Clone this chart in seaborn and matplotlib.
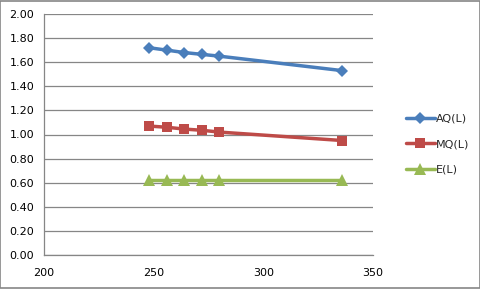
import matplotlib
matplotlib.use("Agg")
import matplotlib.pyplot as plt
import seaborn as sns
import pandas as pd

L = [248, 256, 264, 272, 280, 336]
AQ = [1.72, 1.70, 1.68, 1.665, 1.65, 1.53]
MQ = [1.07, 1.06, 1.045, 1.035, 1.02, 0.95]
E = [0.62, 0.62, 0.62, 0.62, 0.62, 0.62]
series_names = ["AQ(L)", "MQ(L)", "E(L)"]
x_ticks = [200, 250, 300, 350]
y_ticks = [0.0, 0.2, 0.4, 0.6, 0.8, 1.0, 1.2, 1.4, 1.6, 1.8, 2.0]

sns.set_style("white")
plt.rcParams['font.family'] = ['DejaVu Sans']

df = pd.DataFrame({"L": L * 3,
                   "value": AQ + MQ + E,
                   "series": [series_names[0]] * 6 + [series_names[1]] * 6 + [series_names[2]] * 6})

fig = plt.figure(figsize=(4.81, 2.89), dpi=100)
ax = fig.add_axes([44 / 481, 1 - 255 / 289, (373 - 44) / 481, (255 - 14) / 289])

colors = {"AQ(L)": "#4A7EBB", "MQ(L)": "#BE4B48", "E(L)": "#98B954"}
markers = {"AQ(L)": "D", "MQ(L)": "s", "E(L)": "^"}
msize = {"AQ(L)": 6.5, "MQ(L)": 7.5, "E(L)": 8.5}
for name in series_names:
    sub = df[df["series"] == name]
    sns.lineplot(data=sub, x="L", y="value", ax=ax, color=colors[name],
                 marker=markers[name], markersize=msize[name], linewidth=2.5,
                 markeredgewidth=0, label=name)

ax.set_xlim(200, 350)
ax.set_ylim(0, 2.0)
ax.set_xticks(x_ticks)
ax.set_yticks(y_ticks)
ax.set_yticklabels([f"{v:.2f}" for v in y_ticks])
ax.set_xlabel("")
ax.set_ylabel("")
ax.yaxis.grid(True, color="#868686", linewidth=0.9)
ax.xaxis.grid(False)
for s in ["top", "right"]:
    ax.spines[s].set_visible(False)
for s in ["left", "bottom"]:
    ax.spines[s].set_color("#868686")
    ax.spines[s].set_linewidth(0.9)
ax.tick_params(axis="both", which="both", length=4, width=0.9, color="#868686",
               labelsize=8, labelcolor="#000000", direction="out")
ax.tick_params(axis="x", pad=5)
ax.tick_params(axis="y", pad=3)

leg = ax.legend(loc="center left", bbox_to_anchor=(1.07, 0.46), frameon=False,
                fontsize=8, handlelength=2.6, handletextpad=0.1, labelspacing=1.4)

fig.patches.append(plt.Rectangle((0.001, 0.002), 0.997, 0.995, transform=fig.transFigure,
                                 fill=False, edgecolor="#868686", linewidth=1.2))
fig.savefig("out.png", dpi=100, facecolor="white")
